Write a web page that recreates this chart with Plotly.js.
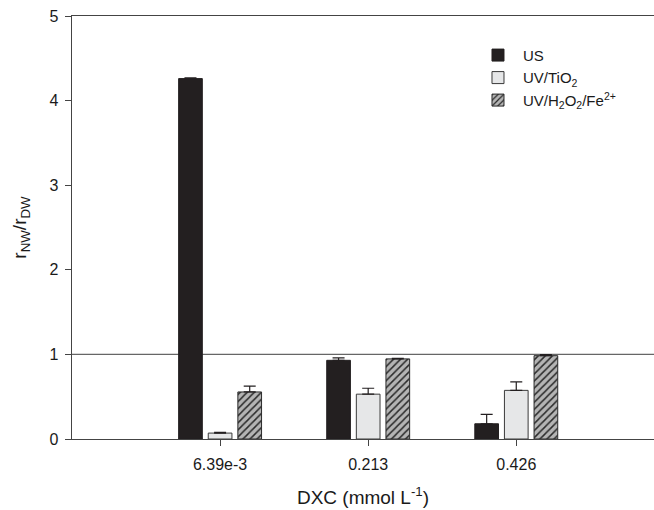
<!DOCTYPE html>
<html>
<head>
<meta charset="utf-8">
<script src="https://cdn.plot.ly/plotly-3.0.1.min.js"></script>
<style>html,body{margin:0;padding:0;background:#fff;}#chart{width:654px;height:510px;}</style>
</head>
<body>
<div id="chart"></div>
<script>
var categories = ['6.39e-3', '0.213', '0.426'];
var seriesNames = ['US', 'UV/TiO<sub>2</sub>', 'UV/H<sub>2</sub>O<sub>2</sub>/Fe<sup>2+</sup>'];
var usValues = [4.26, 0.93, 0.18];
var usErrors = [0.01, 0.03, 0.11];
var tio2Values = [0.07, 0.53, 0.575];
var tio2Errors = [0.01, 0.07, 0.10];
var fentonValues = [0.556, 0.947, 0.985];
var fentonErrors = [0.07, 0.005, 0.012];
var yTicks = [0, 1, 2, 3, 4, 5];
var refLineValue = 1;

var xIdx = categories.map(function(_, i){ return i; });

function errBar(arr){
  return {type:'data', array: arr, symmetric:false, arrayminus: arr.map(function(){return 0;}), color:'#231f20', thickness:1.2, width:6};
}

var traces = [
  {type:'bar', name: seriesNames[0], x: xIdx, y: usValues, error_y: errBar(usErrors),
   marker:{color:'#231f20', line:{color:'#231f20', width:1}}},
  {type:'bar', name: seriesNames[1], x: xIdx, y: tio2Values, error_y: errBar(tio2Errors),
   marker:{color:'#e6e7e8', line:{color:'#3a3a3a', width:1}}},
  {type:'bar', name: seriesNames[2], x: xIdx, y: fentonValues, error_y: errBar(fentonErrors),
   marker:{color:'#b4b4b4', line:{color:'#2a2a2a', width:1},
     pattern:{shape:'/', bgcolor:'#b4b4b4', fgcolor:'#2a2a2a', size:5, solidity:0.3}}}
];

var layout = {
  width: 654, height: 510,
  margin: {l:72, r:0, t:16, b:71},
  paper_bgcolor:'#fff', plot_bgcolor:'#fff',
  font: {family:'Liberation Sans, Arial, sans-serif', color:'#1a1a1a', size:15},
  barmode:'group', bargap:0.4, bargroupgap:0.2,
  showlegend:true,
  legend: {x:0.689, y:0.946, xanchor:'left', yanchor:'top', bgcolor:'rgba(0,0,0,0)',
    font:{size:15, color:'#1a1a1a'}, tracegroupgap:0, itemwidth:40},
  xaxis: {range:[-1, 2.93], tickmode:'array', tickvals: xIdx, ticktext: categories,
    showline:true, linecolor:'#444', linewidth:1.3, mirror:true, ticks:'outside', ticklen:6, tickcolor:'#444',
    showgrid:false, zeroline:false, tickfont:{size:16}, ticklabelstandoff:4,
    title:{text:'DXC (mmol L<sup>-1</sup>)', font:{size:19}, standoff:19}},
  yaxis: {range:[0, 5], tickmode:'array', tickvals: yTicks,
    showline:true, linecolor:'#444', linewidth:1.3, mirror:false, ticks:'outside', ticklen:6, tickcolor:'#444',
    showgrid:false, zeroline:false, tickfont:{size:16}, ticklabelstandoff:3,
    title:{text:'r<sub>NW</sub>/r<sub>DW</sub>', font:{size:19}, standoff:18}},
  shapes: [
    {type:'line', xref:'paper', yref:'y', x0:0, x1:1, y0:refLineValue, y1:refLineValue,
     line:{color:'#666', width:1.3}, layer:'below'}
  ]
};

Plotly.newPlot('chart', traces, layout, {staticPlot:true, displayModeBar:false});
</script>
</body>
</html>
